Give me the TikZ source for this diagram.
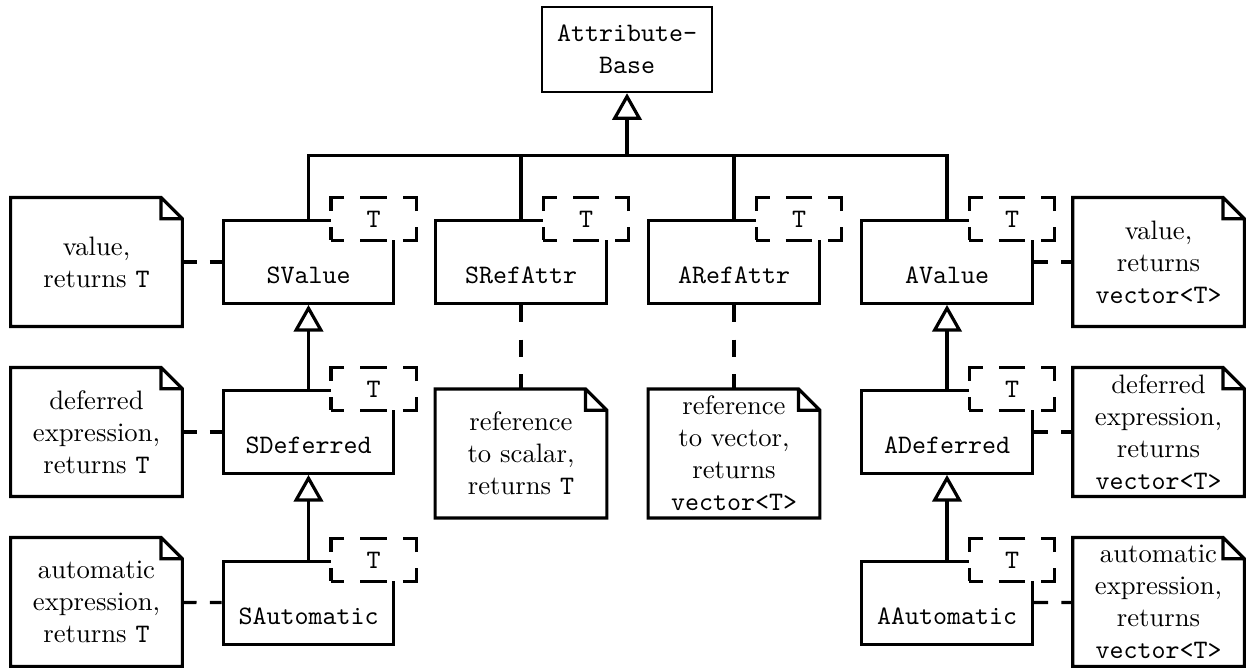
\documentclass[tikz,border=0pt]{standalone}
\usetikzlibrary{arrows.meta}

\tikzset{
  cls/.style={draw, line width=1.2pt, minimum width=64pt, minimum height=31pt,
    inner sep=0pt, text height=16pt, text depth=0pt, font=\ttfamily},
  tparam/.style={draw, fill=white, line width=1.2pt, dash pattern=on 10pt off 6pt,
    dash phase=5pt, minimum width=32pt, minimum height=16pt, inner sep=0pt, font=\ttfamily},
  note/.style={minimum width=64pt, minimum height=48pt, inner sep=0pt, align=center},
  notelink/.style={line width=1.2pt, dash pattern=on 5.3pt off 5pt},
  inherit/.style={line width=1.2pt, -{Triangle[open, length=10pt, width=11pt]}},
}

\begin{document}
\begin{tikzpicture}[x=0.375pt, y=-0.375pt]
  \useasboundingbox (0,0) rectangle (1248,667);

  % classes
  \node[draw, line width=0.8pt, minimum width=64pt, minimum height=32pt, align=center,
    font=\ttfamily] (base) at (627,49.5) {Attribute-\\Base};
  \node[cls] (SV) at (308.5,262) {SValue};
  \node[cls] (SR) at (521,262) {SRefAttr};
  \node[cls] (AR) at (734,262) {ARefAttr};
  \node[cls] (AV) at (947,262) {AValue};
  \node[cls] (SD) at (308.5,432) {SDeferred};
  \node[cls] (SA) at (308.5,603) {SAutomatic};
  \node[cls] (AD) at (947,432) {ADeferred};
  \node[cls] (AA) at (947,603) {AAutomatic};

  % template parameters
  \foreach \c in {SV,SR,AR,AV,SD,SA,AD,AA}
    \node[tparam] (T\c) at ([xshift=-8.2pt]\c.north east) {T};

  % notes
  \node[note] (nSV) at (96.5,262) {value,\\returns \texttt{T}};
  \node[note] (nSD) at (96.5,432) {deferred\\expression,\\returns \texttt{T}};
  \node[note] (nSA) at (96.5,602) {automatic\\expression,\\returns \texttt{T}};
  \node[note] (nSR) at (521,453.5) {reference\\to scalar,\\returns \texttt{T}};
  \node[note] (nAR) at (734,453.5) {reference\\to vector,\\returns\\\texttt{vector<T>}};
  \node[note] (nAV) at (1158.5,262) {value,\\returns\\\texttt{vector<T>}};
  \node[note] (nAD) at (1158.5,432) {deferred\\expression,\\returns\\\texttt{vector<T>}};
  \node[note] (nAA) at (1158.5,602) {automatic\\expression,\\returns\\\texttt{vector<T>}};
  \foreach \n in {nSV,nSD,nSA,nSR,nAR,nAV,nAD,nAA}
    \draw[line width=1.2pt] (\n.north west) -- ([xshift=-8pt]\n.north east)
      -- ([yshift=-8pt]\n.north east) -- (\n.south east) -- (\n.south west) -- cycle
      ([xshift=-8pt]\n.north east) |- ([yshift=-8pt]\n.north east);

  % note links
  \draw[notelink] (nSV) -- (SV); \draw[notelink] (nSD) -- (SD);
  \draw[notelink] (nSA) -- (SA); \draw[notelink] (AV) -- (nAV);
  \draw[notelink] (AD) -- (nAD); \draw[notelink] (AA) -- (nAA);
  \draw[notelink, dash pattern=on 6.5pt off 6.5pt] (SR) -- (nSR);
  \draw[notelink, dash pattern=on 6.5pt off 6.5pt] (AR) -- (nAR);

  % inheritance
  \coordinate (bar) at (627,155.5);
  \draw[inherit] (bar) -- (base);
  \draw[line width=1.2pt] (SV.north) |- (bar) -| (AV.north);
  \draw[line width=1.2pt] (SR.north) -- (SR.north |- bar);
  \draw[line width=1.2pt] (AR.north) -- (AR.north |- bar);
  \draw[inherit] (SD) -- (SV); \draw[inherit] (SA) -- (SD);
  \draw[inherit] (AD) -- (AV); \draw[inherit] (AA) -- (AD);
\end{tikzpicture}
\end{document}
